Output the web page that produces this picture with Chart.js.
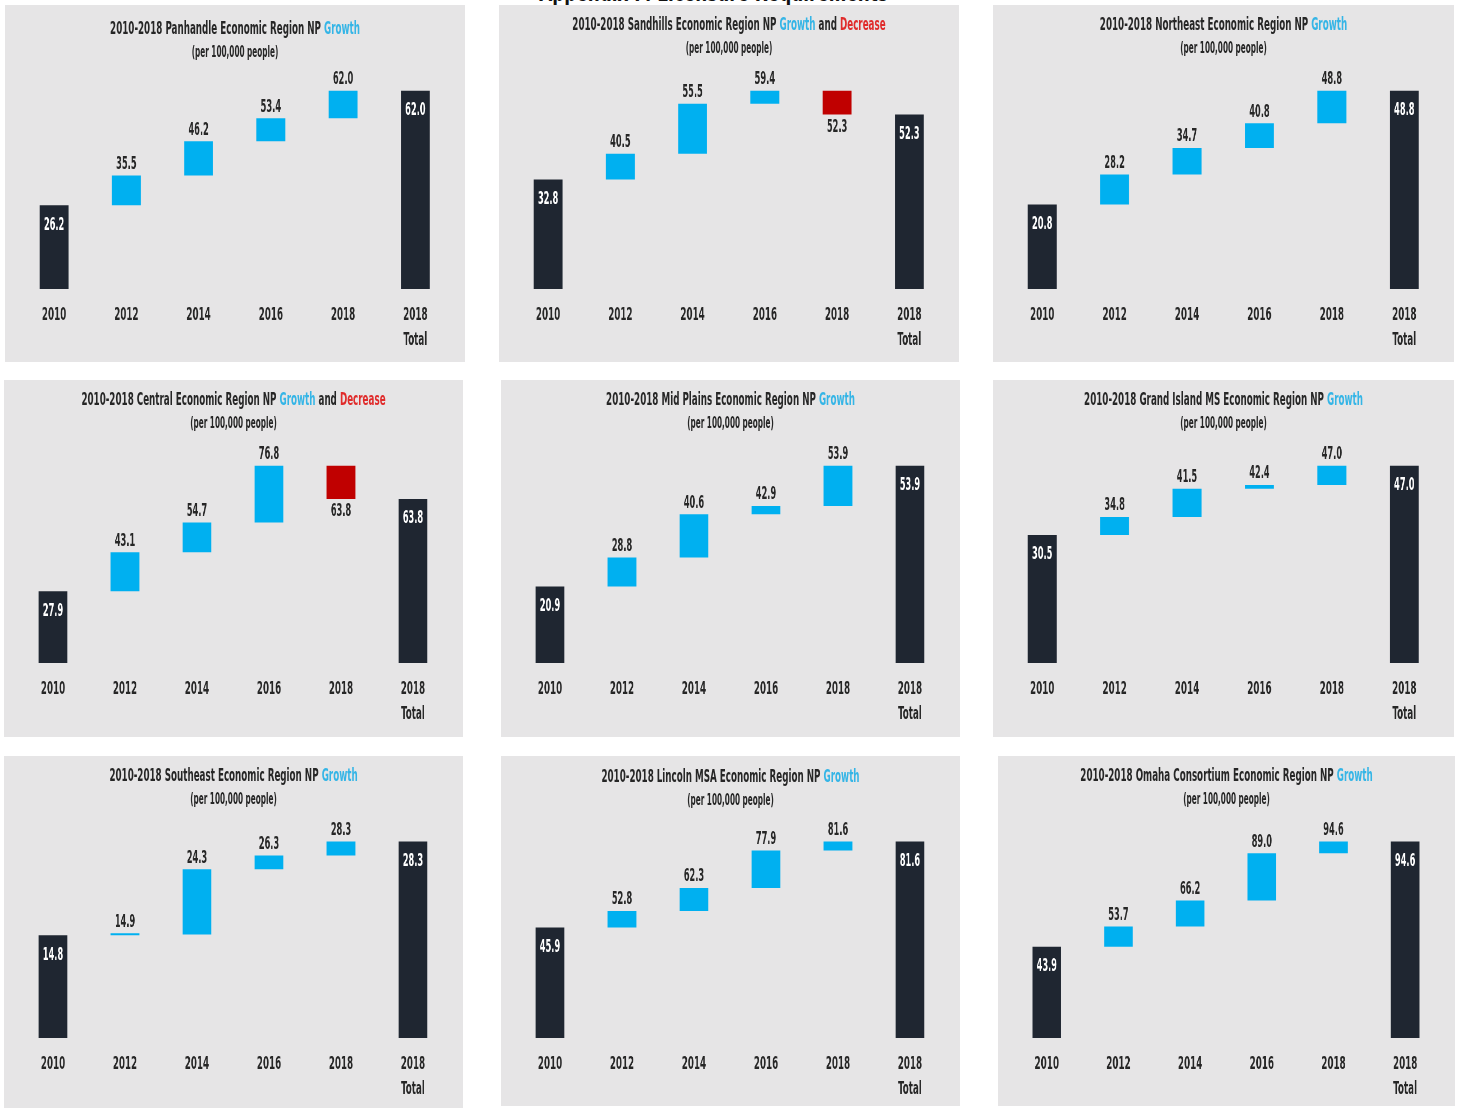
<!DOCTYPE html>
<html lang="en">
<head>
  <meta charset="UTF-8">
  <title>2010-2018 Economic Region NP Growth</title>
  <script src="https://cdn.jsdelivr.net/npm/chart.js"></script>
  <style>
    body { margin: 0; background: #fff; width: 1460px; height: 1108px; position: relative; overflow: hidden;
           font-family: "Liberation Sans Narrow", "DejaVu Sans Condensed", sans-serif; }
    .top-head { position: absolute; left: 400px; width: 627px; top: -21px; text-align: center; font-size: 26px;
                line-height: 26px; font-weight: bold; color: #111; transform: scaleX(0.72); white-space: nowrap; }
    .panel { position: absolute; background: #e6e5e6; overflow: hidden; }
    .squeeze { position: absolute; left: 0; top: 0; transform-origin: 0 0; transform: scaleX(0.54); }
    .ttl { position: absolute; left: 0; right: 0; text-align: center; font-weight: bold; color: #262626; white-space: nowrap; z-index: 2; }
    .ttl.main { font-size: 18px; line-height: 18px; }
    .ttl.sub { font-size: 15px; line-height: 15px; }
    .g { color: #35b5e6; }
    .d { color: #e02b2b; }
    .box { position: absolute; left: 0; top: 0; }
  </style>
</head>
<body>
  <div class="top-head">Appendix F: Licensure Requirements</div>
  <div id="grid"></div>

  <script>
    // categories
    const years = ['2010', '2012', '2014', '2016', '2018', ['2018', 'Total']];

    // NP per 100,000 people, 2010..2018
    const regions = ['Panhandle', 'Sandhills', 'Northeast', 'Central', 'Mid Plains',
                     'Grand Island MS', 'Southeast', 'Lincoln MSA', 'Omaha Consortium'];
    const panhandle = [26.2, 35.5, 46.2, 53.4, 62.0];
    const sandhills = [32.8, 40.5, 55.5, 59.4, 52.3];
    const northeast = [20.8, 28.2, 34.7, 40.8, 48.8];
    const central = [27.9, 43.1, 54.7, 76.8, 63.8];
    const midPlains = [20.9, 28.8, 40.6, 42.9, 53.9];
    const grandIsland = [30.5, 34.8, 41.5, 42.4, 47.0];
    const southeast = [14.8, 14.9, 24.3, 26.3, 28.3];
    const lincoln = [45.9, 52.8, 62.3, 77.9, 81.6];
    const omaha = [43.9, 53.7, 66.2, 89.0, 94.6];
    const series = [panhandle, sandhills, northeast, central, midPlains, grandIsland, southeast, lincoln, omaha];

    // panel boxes: left, top, width, height, baseline (from panel top), title y
    const boxes = [
      [5, 5, 460, 357, 284, 23],
      [499, 5, 460, 357, 284, 19],
      [993, 5, 461, 357, 284, 19],
      [4, 380, 459, 357, 283, 19],
      [501, 380, 459, 357, 283, 19],
      [993, 380, 461, 357, 283, 19],
      [4, 756, 459, 352, 282, 19],
      [501, 756, 459, 350, 282, 20],
      [998, 756, 457, 350, 282, 19]
    ];

    const SQ = 0.54;
    const FONT = '"Liberation Sans Narrow", "DejaVu Sans Condensed", sans-serif';
    const DARK = '#1f2631', BLUE = '#00b0f0', RED = '#c00000';

    // value labels over / under / inside the bars
    const valueLabels = {
      id: 'valueLabels',
      afterDatasetsDraw(chart) {
        const ctx = chart.ctx;
        const meta = chart.getDatasetMeta(0);
        const data = chart.data.datasets[0].data;
        ctx.save();
        ctx.font = 'bold 17px ' + FONT;
        ctx.textAlign = 'center';
        ctx.textBaseline = 'middle';
        meta.data.forEach((bar, i) => {
          const [a, b] = data[i];
          const top = Math.min(bar.y, bar.base), bottom = Math.max(bar.y, bar.base);
          const txt = b.toFixed(1);
          if (a === 0) {
            ctx.fillStyle = '#fff';
            ctx.fillText(txt, bar.x, top + 20);
          } else if (b >= a) {
            ctx.fillStyle = '#262626';
            ctx.fillText(txt, bar.x, top - 11);
          } else {
            ctx.fillStyle = '#262626';
            ctx.fillText(txt, bar.x, bottom + 13);
          }
        });
        ctx.restore();
      }
    };

    function steps(vals) {
      const out = [[0, vals[0]]];
      for (let i = 1; i < vals.length; i++) out.push([vals[i - 1], vals[i]]);
      out.push([0, vals[vals.length - 1]]);
      return out;
    }
    function colors(vals) {
      const out = [DARK];
      for (let i = 1; i < vals.length; i++) out.push(vals[i] >= vals[i - 1] ? BLUE : RED);
      out.push(DARK);
      return out;
    }

    const grid = document.getElementById('grid');
    series.forEach((vals, k) => {
      const [x, y, w, h, base, ty] = boxes[k];
      const hasDrop = vals.some((v, i) => i > 0 && v < vals[i - 1]);

      const panel = document.createElement('div');
      panel.className = 'panel';
      Object.assign(panel.style, { left: x + 'px', top: y + 'px', width: w + 'px', height: h + 'px' });

      const sq = document.createElement('div');
      sq.className = 'squeeze';
      sq.style.width = (w / SQ) + 'px';
      sq.style.height = h + 'px';
      sq.innerHTML =
        '<div class="ttl main" style="top:' + (ty - 9) + 'px">2010-2018 ' + regions[k] +
        ' Economic Region NP <span class="g">Growth</span>' +
        (hasDrop ? ' and <span class="d">Decrease</span>' : '') + '</div>' +
        '<div class="ttl sub" style="top:' + (ty + 17) + 'px">(per 100,000 people)</div>';

      const box = document.createElement('div');
      box.className = 'box';
      box.style.width = (w / SQ) + 'px';
      box.style.height = h + 'px';
      const cv = document.createElement('canvas');
      box.appendChild(cv);
      sq.appendChild(box);
      panel.appendChild(sq);
      grid.appendChild(panel);

      new Chart(cv, {
        type: 'bar',
        data: {
          labels: years,
          datasets: [{
            data: steps(vals),
            backgroundColor: colors(vals),
            borderWidth: 0,
            barPercentage: 0.4,
            categoryPercentage: 1,
            minBarLength: 2
          }]
        },
        options: {
          responsive: true,
          maintainAspectRatio: false,
          animation: false,
          layout: { padding: { top: 60, left: 24, right: 26, bottom: 0 } },
          plugins: { legend: { display: false }, tooltip: { enabled: false } },
          scales: {
            x: {
              grid: { display: false, drawTicks: false },
              border: { display: false },
              ticks: {
                color: '#262626',
                font: { family: FONT, size: 18, weight: 'bold', lineHeight: '25px' },
                padding: 14, maxRotation: 0, autoSkip: false
              },
              afterFit(s) { s.height = h - base; }
            },
            y: { display: false, min: 0, max: Math.max(...vals) * 1.13 }
          }
        },
        plugins: [valueLabels]
      });
    });
  </script>
</body>
</html>
